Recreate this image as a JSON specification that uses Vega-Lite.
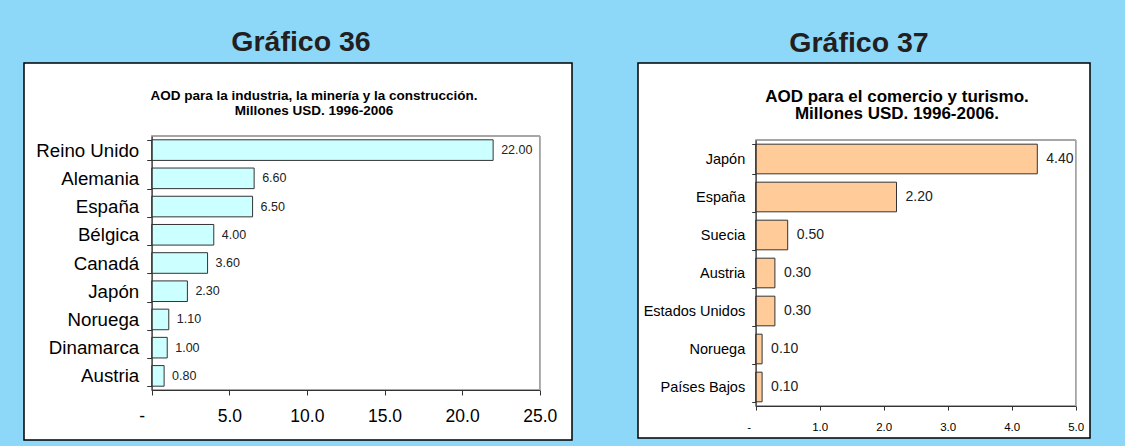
{
  "$schema": "https://vega.github.io/schema/vega-lite/v6.json",
  "background": "#8DD8F8",
  "padding": {"left": 23, "top": 28, "right": 37, "bottom": 6},
  "autosize": {"type": "pad"},
  "spacing": 64,
  "config": {"font": "Liberation Sans", "view": {"stroke": null}},
  "hconcat": [
    {
      "title": {"text": "Gráfico 36", "fontSize": 28.5, "fontWeight": "bold", "color": "#231F20", "anchor": "middle", "frame": "bounds", "offset": -3.5, "dx": 3},
      "vconcat": [
        {
          "width": 548,
          "height": 377,
          "view": {"fill": "white", "stroke": "black", "strokeWidth": 1.5},
          "title": {"text": ["AOD para la industria, la minería y la construcción.", "Millones USD. 1996-2006"], "fontSize": 13.5, "fontWeight": "bold", "lineHeight": 15, "offset": -63, "dx": 16, "anchor": "middle", "frame": "group", "color": "black"},
          "data": {"values": [
            {"country": "Reino Unido", "value": 22.0},
            {"country": "Alemania", "value": 6.6},
            {"country": "España", "value": 6.5},
            {"country": "Bélgica", "value": 4.0},
            {"country": "Canadá", "value": 3.6},
            {"country": "Japón", "value": 2.3},
            {"country": "Noruega", "value": 1.1},
            {"country": "Dinamarca", "value": 1.0},
            {"country": "Austria", "value": 0.8}
          ]},
          "resolve": {"scale": {"y": "independent"}},
          "layer": [
            {
              "mark": {"type": "rect", "fill": null, "stroke": "#A6A6A6", "strokeWidth": 1},
              "encoding": {
                "x": {"datum": 0, "type": "quantitative"},
                "x2": {"datum": 25},
                "y": {"datum": 0, "type": "quantitative", "scale": {"domain": [0, 1], "range": [73, 327]}, "axis": null},
                "y2": {"datum": 1}
              }
            },
            {
              "mark": {"type": "bar", "fill": "#CCFFFF", "stroke": "#333333", "strokeWidth": 1},
              "encoding": {
                "x": {"field": "value", "type": "quantitative", "scale": {"domain": [0, 25], "range": [127.7, 515.7], "nice": false},
                  "axis": {"title": null, "values": [0, 5, 10, 15, 20, 25], "labelExpr": "datum.value == 0 ? '-' : format(datum.value, '.1f')", "labelOffset": {"condition": {"test": "datum.value == 0", "value": -10}, "value": 0}, "labelFontSize": 17.5, "labelColor": "black", "offset": -50, "tickSize": 5, "labelPadding": 12, "grid": false, "labelFlush": false, "labelOverlap": false, "labelBound": false, "domainColor": "#333333", "tickColor": "#333333", "zindex": 1}},
                "y": {"field": "country", "type": "nominal", "sort": null, "scale": {"range": [73, 327], "paddingInner": 0.27, "paddingOuter": 0.135},
                  "axis": {"title": null, "labelFontSize": 18.7, "labelColor": "black", "offset": -127.7, "tickSize": 5, "labelPadding": 8, "tickBand": "extent", "grid": false, "domainColor": "#333333", "tickColor": "#333333", "zindex": 1}}
              }
            },
            {
              "mark": {"type": "text", "align": "left", "baseline": "middle", "dx": 8, "fontSize": 12.5, "color": "#222222"},
              "encoding": {
                "x": {"field": "value", "type": "quantitative"},
                "y": {"field": "country", "type": "nominal", "sort": null, "scale": {"range": [73, 327], "paddingInner": 0.27, "paddingOuter": 0.135}, "axis": null},
                "text": {"field": "value", "type": "quantitative", "format": ".2f"}
              }
            }
          ]
        }
      ]
    },
    {
      "title": {"text": "Gráfico 37", "fontSize": 28.5, "fontWeight": "bold", "color": "#231F20", "anchor": "middle", "frame": "bounds", "offset": -3.5, "dx": -5},
      "vconcat": [
        {
          "width": 452,
          "height": 375,
          "view": {"fill": "white", "stroke": "black", "strokeWidth": 1.5},
          "title": {"text": ["AOD para el comercio y turismo.", "Millones USD. 1996-2006."], "fontSize": 17, "fontWeight": "bold", "lineHeight": 17, "offset": -68, "dx": 33, "anchor": "middle", "frame": "group", "color": "black"},
          "data": {"values": [
            {"country": "Japón", "value": 4.4},
            {"country": "España", "value": 2.2},
            {"country": "Suecia", "value": 0.5},
            {"country": "Austria", "value": 0.3},
            {"country": "Estados Unidos", "value": 0.3},
            {"country": "Noruega", "value": 0.1},
            {"country": "Países Bajos", "value": 0.1}
          ]},
          "resolve": {"scale": {"y": "independent"}},
          "layer": [
            {
              "mark": {"type": "rect", "fill": null, "stroke": "#A6A6A6", "strokeWidth": 1},
              "encoding": {
                "x": {"datum": 0, "type": "quantitative"},
                "x2": {"datum": 5},
                "y": {"datum": 0, "type": "quantitative", "scale": {"domain": [0, 1], "range": [77, 343]}, "axis": null},
                "y2": {"datum": 1}
              }
            },
            {
              "mark": {"type": "bar", "fill": "#FFCC99", "stroke": "#333333", "strokeWidth": 1},
              "encoding": {
                "x": {"field": "value", "type": "quantitative", "scale": {"domain": [0, 5], "range": [117.7, 437.7], "nice": false},
                  "axis": {"title": null, "values": [0, 1, 2, 3, 4, 5], "labelExpr": "datum.value == 0 ? '-' : format(datum.value, '.1f')", "labelOffset": {"condition": {"test": "datum.value == 0", "value": -7}, "value": 0}, "labelFontSize": 11.5, "labelColor": "black", "offset": -32, "tickSize": 4, "labelPadding": 11, "grid": false, "labelFlush": false, "labelOverlap": false, "labelBound": false, "domainColor": "#333333", "tickColor": "#333333", "zindex": 1}},
                "y": {"field": "country", "type": "nominal", "sort": null, "scale": {"range": [77, 343], "paddingInner": 0.22, "paddingOuter": 0.11},
                  "axis": {"title": null, "labelFontSize": 14.5, "labelColor": "black", "offset": -117.7, "tickSize": 4, "labelPadding": 7, "tickBand": "extent", "grid": false, "domainColor": "#333333", "tickColor": "#333333", "zindex": 1}}
              }
            },
            {
              "mark": {"type": "text", "align": "left", "baseline": "middle", "dx": 9, "fontSize": 14, "color": "#222222"},
              "encoding": {
                "x": {"field": "value", "type": "quantitative"},
                "y": {"field": "country", "type": "nominal", "sort": null, "scale": {"range": [77, 343], "paddingInner": 0.22, "paddingOuter": 0.11}, "axis": null},
                "text": {"field": "value", "type": "quantitative", "format": ".2f"}
              }
            }
          ]
        }
      ]
    }
  ]
}
